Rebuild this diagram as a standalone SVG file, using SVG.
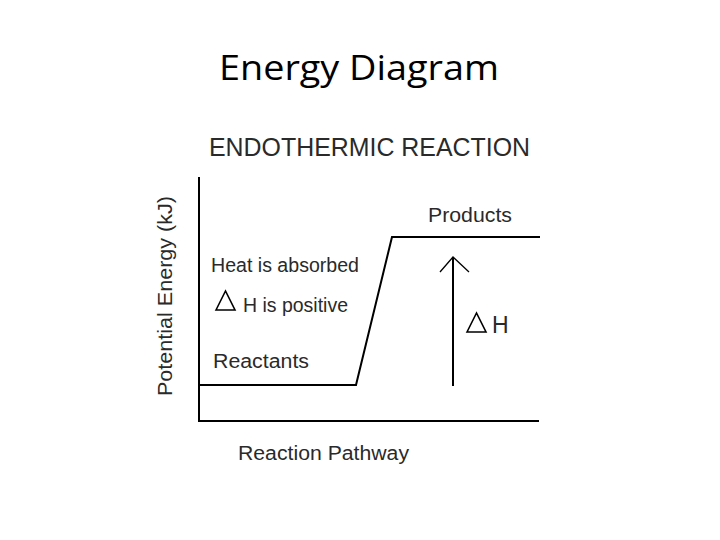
<svg xmlns="http://www.w3.org/2000/svg" width="720" height="540" viewBox="0 0 720 540">
<style>
.t{font-family:"Liberation Sans",Arial,sans-serif;fill:#2a2a2a;font-size:20px}
.ln{stroke:#000;stroke-width:2;fill:none}
.tri{stroke:#000;stroke-width:1.6;fill:none}
</style>
<rect width="720" height="540" fill="#fff"/>
<text x="359" y="80" text-anchor="middle" font-family="'Open Sans','Noto Sans',sans-serif" font-size="35" fill="#000" textLength="280" lengthAdjust="spacingAndGlyphs">Energy Diagram</text>
<text class="t" x="209" y="156" style="font-size:26px" textLength="321" lengthAdjust="spacingAndGlyphs">ENDOTHERMIC REACTION</text>
<text class="t" transform="translate(172,296) rotate(-90)" text-anchor="middle" textLength="200" lengthAdjust="spacingAndGlyphs">Potential Energy (kJ)</text>
<g id="axes">
<path class="ln" d="M199,177 V421 H539"/>
</g>
<g id="connectors">
<path class="ln" d="M199,385 H356 L392,237 H540"/>
<path class="ln" d="M453,386 V257"/>
<path d="M440,272 L453,257 L469,272" stroke="#000" stroke-width="1.3" fill="none"/>
</g>
<g id="products"><text class="t" x="428" y="222" textLength="84" lengthAdjust="spacingAndGlyphs">Products</text></g>
<g id="heat"><text class="t" x="211" y="272" textLength="148" lengthAdjust="spacingAndGlyphs">Heat is absorbed</text></g>
<g id="positive">
<path class="tri" d="M216,310 L225.5,291 L235,310 Z"/>
<text class="t" x="243" y="312" textLength="105" lengthAdjust="spacingAndGlyphs">H is positive</text>
</g>
<g id="reactants"><text class="t" x="213" y="368" textLength="96" lengthAdjust="spacingAndGlyphs">Reactants</text></g>
<g id="deltaH">
<path class="tri" d="M467,332 L476.5,313 L486,332 Z"/>
<text class="t" x="492" y="333" style="font-size:23px">H</text>
</g>
<g id="pathway"><text class="t" x="238" y="460" textLength="171" lengthAdjust="spacingAndGlyphs">Reaction Pathway</text></g>
</svg>
